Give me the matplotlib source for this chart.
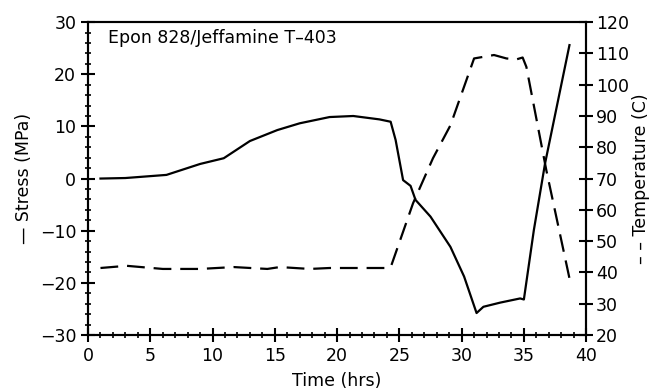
import matplotlib.pyplot as plt
import matplotlib
from matplotlib.ticker import MultipleLocator

# data
stress_t = [1.0, 3.0, 6.3, 9.0, 10.9, 13.0, 15.2, 17.0, 19.4, 21.3, 23.4, 24.3,
            24.7, 25.3, 25.9, 26.3, 27.5, 29.1, 30.2, 31.2, 31.75, 33.1, 34.7,
            35.0, 35.8, 36.7, 38.66]
stress = [0.0, 0.1, 0.7, 2.8, 3.9, 7.2, 9.3, 10.6, 11.8, 12.0, 11.35, 10.9,
          7.4, -0.3, -1.4, -4.1, -7.3, -13.1, -18.8, -25.8, -24.6, -23.8, -23.0,
          -23.2, -9.9, 2.9, 25.6]

temp_t = [1.0, 3.1, 6.0, 9.0, 11.7, 14.4, 15.4, 17.8, 19.4, 21.3, 24.0, 24.3,
          26.1, 27.7, 29.1, 31.0, 32.6, 33.6, 34.4, 34.9, 35.2, 36.8, 38.66]
temp = [41.4, 42.1, 41.1, 41.1, 41.7, 41.1, 41.7, 41.1, 41.4, 41.4, 41.4, 41.6,
        62.1, 76.5, 87.0, 108.4, 109.5, 108.4, 108.1, 108.7, 105.7, 72.7, 38.1]

matplotlib.rcParams['font.family'] = 'DejaVu Sans'
matplotlib.rcParams['font.size'] = 12.5

fig, ax = plt.subplots(figsize=(6.52, 3.89), dpi=100)
fig.subplots_adjust(left=0.135, right=0.899, top=0.943, bottom=0.139)
ax2 = ax.twinx()

ax.plot(stress_t, stress, color='black', linewidth=1.6)
ax2.plot(temp_t, temp, color='black', linewidth=1.6, dashes=(8, 4))

ax.set_xlim(0, 40)
ax.set_ylim(-30, 30)
ax2.set_ylim(20, 120)

ax.xaxis.set_major_locator(MultipleLocator(5))
ax.xaxis.set_minor_locator(MultipleLocator(1))
ax.yaxis.set_major_locator(MultipleLocator(10))
ax.yaxis.set_minor_locator(MultipleLocator(2))
ax2.yaxis.set_major_locator(MultipleLocator(10))

ax.tick_params(axis='both', which='major', direction='inout', length=10, width=1.5, top=False, right=False)
ax.tick_params(axis='both', which='minor', direction='inout', length=5, width=1.2, top=False, right=False)
ax2.tick_params(axis='y', which='major', direction='inout', length=10, width=1.5, pad=2)

for a in (ax, ax2):
    for s in a.spines.values():
        s.set_linewidth(1.5)

ax.set_xlabel('Time (hrs)', labelpad=5)
ax.set_ylabel('— Stress (MPa)', labelpad=5)
ax2.set_ylabel('– – Temperature (C)', labelpad=2)

ax.text(1.6, 27.0, 'Epon 828/Jeffamine T–403', va='center', ha='left')

plt.savefig('out.png', dpi=100)
